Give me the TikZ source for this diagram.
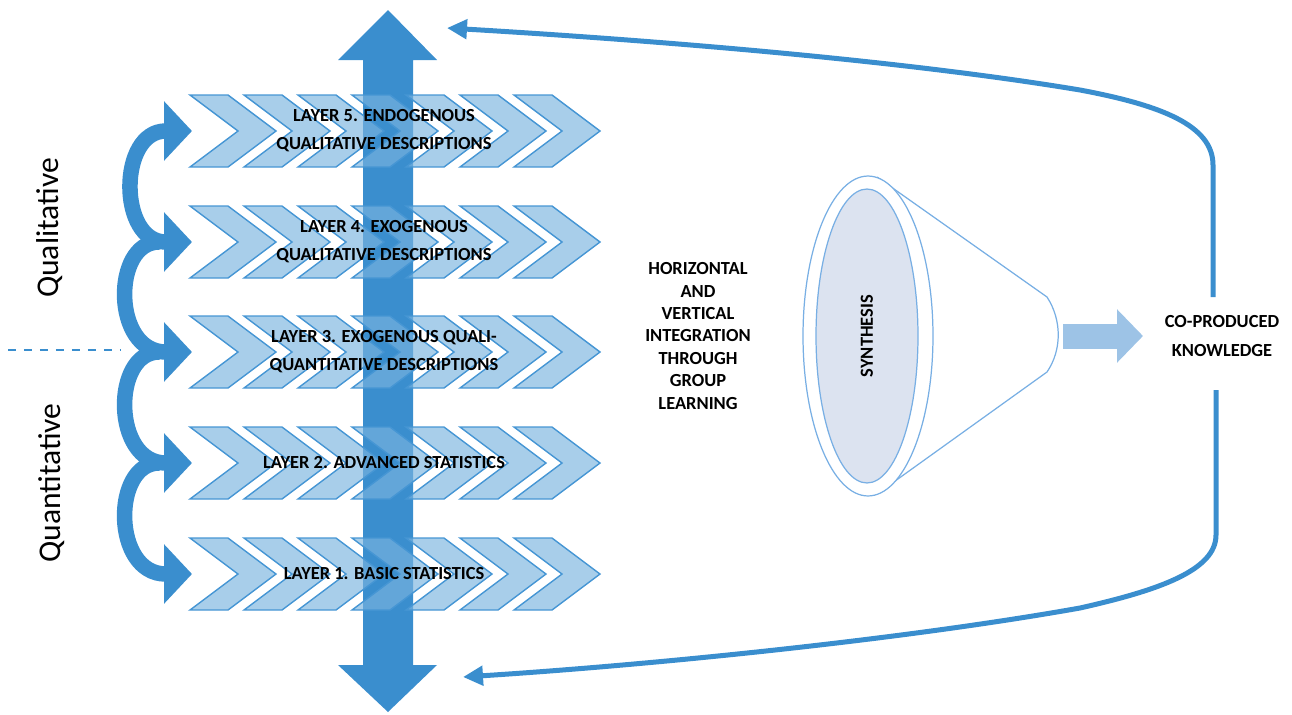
\documentclass[tikz,border=0pt]{standalone}
\usepackage{fontspec}
\setmainfont{Carlito}
\usetikzlibrary{arrows.meta, positioning, shapes.geometric, calc}
\definecolor{barblue}{RGB}{58,142,206}
\definecolor{chevfill}{RGB}{121,180,223}
\definecolor{chevline}{RGB}{70,150,212}
\definecolor{lightarrow}{RGB}{157,195,230}
\definecolor{funnelline}{RGB}{120,175,228}
\definecolor{synthgrey}{RGB}{220,227,240}
\tikzset{
    chevron/.style={fill=chevfill, fill opacity=0.65, draw=chevline, line width=0.8pt},
    layertext/.style={font=\bfseries\fontsize{10.5}{16}\selectfont, align=center, text=black},
    sidetext/.style={font=\fontsize{18}{20}\selectfont, text=black},
    curlhead/.tip={Triangle[length=0.56cm, width=1.16cm]},
    loophead/.tip={Triangle[length=0.4cm, width=0.38cm]},
    curlarrow/.style={draw=barblue, line width=0.31cm},
    loopline/.style={draw=barblue, line width=0.1cm, -loophead},
    funnel/.style={draw=funnelline, line width=0.7pt},
}

\begin{document}
\begin{tikzpicture}[x=0.02cm, y=-0.02cm]
    \useasboundingbox (0,0) rectangle (1292,714);

    % vertical double arrow
    \fill[barblue] (388,10) -- (437,60) -- (413,60) -- (413,665) -- (437,665) -- (388,712)
        -- (338,665) -- (363,665) -- (363,60) -- (338,60) -- cycle;

    % chevron rows
    \foreach \r/\yc in {1/574, 2/463, 3/352, 4/242, 5/131} {
        \foreach \i in {0,...,6} {
            \pgfmathsetmacro{\xo}{190+54*\i}
            \draw[chevron] (\xo,\yc-36) -- ++(38,0) -- ++(48,36) -- ++(-48,36) -- ++(-38,0) -- ++(48,-36) -- cycle;
        }
        \coordinate (row\r) at (384,\yc);
        \coordinate (head\r) at (192,\yc);
    }

    \node[layertext] (l5) at (row5) {LAYER 5. ENDOGENOUS\\QUALITATIVE DESCRIPTIONS};
    \node[layertext] (l4) at (row4) {LAYER 4. EXOGENOUS\\QUALITATIVE DESCRIPTIONS};
    \node[layertext] (l3) at (row3) {LAYER 3. EXOGENOUS QUALI-\\QUANTITATIVE DESCRIPTIONS};
    \node[layertext] (l2) at (row2) {LAYER 2. ADVANCED STATISTICS};
    \node[layertext] (l1) at (row1) {LAYER 1. BASIC STATISTICS};

    % curved arrows on the left
    \draw[curlarrow, curlhead-curlhead] (head4) .. controls (118,242) and (118,131) .. (head5);
    \draw[curlarrow, -curlhead] ([xshift=-0.66cm]head4) .. controls (112,242) and (112,352) .. (head3);
    \draw[curlarrow, -curlhead] ([xshift=-0.66cm]head3) .. controls (112,352) and (112,463) .. (head2);
    \draw[curlarrow, -curlhead] ([xshift=-0.66cm]head2) .. controls (112,463) and (112,574) .. (head1);

    \node[sidetext, rotate=90] (qual) at (50,228) {Qualitative};
    \node[sidetext, rotate=90] (quant) at (52,483) {Quantitative};
    \draw[barblue, line width=0.04cm, dash pattern=on 0.17cm off 0.15cm] (8,350) -- (120,350);

    \node[layertext, font=\bfseries\fontsize{10.5}{12.8}\selectfont] (integ) at (698,336)
        {HORIZONTAL\\AND\\VERTICAL\\INTEGRATION\\THROUGH\\GROUP\\LEARNING};

    % funnel
    \draw[funnel, fill=white] (877,177) -- (1047,297) .. controls (1062,320) and (1062,350) .. (1047,372) -- (877,494);
    \node[funnel, ellipse, fill=white, minimum width=2.6cm, minimum height=6.4cm] (outer) at (868,336) {};
    \node[funnel, ellipse, fill=synthgrey, minimum width=2.04cm, minimum height=5.88cm] (synth) at (867,336) {};
    \node[layertext, rotate=90] (synthlabel) at (synth) {SYNTHESIS};

    \coordinate (arrstart) at (1063,336);
    \coordinate (arrend) at (1143,336);
    \draw[lightarrow, line width=0.5cm, -{Triangle[length=0.52cm, width=1.04cm]}] (arrstart) -- (arrend);

    \node[layertext] (know) at (1222,336) {CO-PRODUCED\\KNOWLEDGE};

    % feedback loops
    \coordinate (fbtop) at (1213,297);
    \coordinate (fbbot) at (1216,390);
    \coordinate (uptip) at (447,28);
    \coordinate (downtip) at (463,677);
    \draw[loopline] (fbtop) -- (1213,165) .. controls (1213,125) and (1160,105) .. (1080,90)
        .. controls (900,60) and (650,40) .. (uptip);
    \draw[loopline] (fbbot) -- (1216,535) .. controls (1216,570) and (1160,590) .. (1080,608)
        .. controls (900,640) and (650,665) .. (downtip);
\end{tikzpicture}
\end{document}
